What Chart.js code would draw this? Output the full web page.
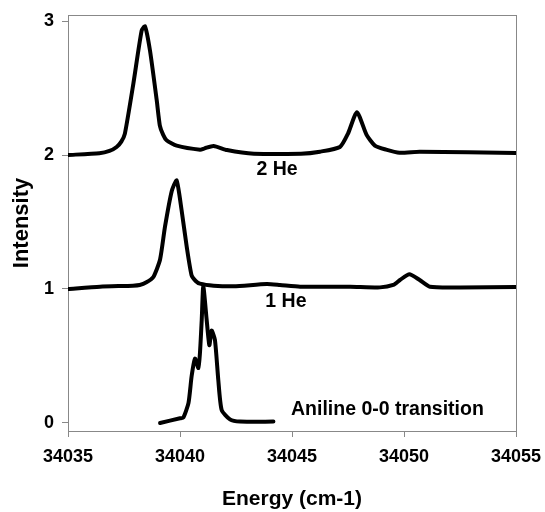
<!DOCTYPE html>
<html>
<head>
<meta charset="utf-8">
<script src="https://cdn.jsdelivr.net/npm/chart.js@4"></script>
<style>
  html, body { margin: 0; padding: 0; background: #fff; }
  canvas { display: block; }
</style>
</head>
<body>
<canvas id="chart" width="545" height="512"></canvas>
<script>
// espectros
const energy2He = [34035, 34036.4, 34036.85, 34037.17, 34037.38, 34037.54, 34037.92, 34038.29, 34038.44, 34038.66, 34038.96, 34039.1, 34039.25, 34039.4, 34039.85, 34040.9, 34041.1, 34041.5, 34042.1, 34043.3, 34045.4, 34046.25, 34047.14, 34047.5, 34047.9, 34048.33, 34048.7, 34049.2, 34049.8, 34050.7, 34055];
const int2He    = [2.0, 2.013, 2.03, 2.06, 2.1, 2.16, 2.535, 2.93, 2.96, 2.78, 2.41, 2.22, 2.15, 2.11, 2.07, 2.04, 2.05, 2.067, 2.037, 2.01, 2.01, 2.025, 2.06, 2.16, 2.32, 2.15, 2.07, 2.04, 2.017, 2.025, 2.015];

const energy1He = [34035, 34036.43, 34037.9, 34038.2, 34038.5, 34038.81, 34039.11, 34039.33, 34039.63, 34039.85, 34040.07, 34040.3, 34040.52, 34040.7, 34040.89, 34041.5, 34042.4, 34043.87, 34044.46, 34045.36, 34047.6, 34048.93, 34049.52, 34049.82, 34050.24, 34050.7, 34051.16, 34052.5, 34055];
const int1He    = [1.0, 1.017, 1.025, 1.03, 1.05, 1.09, 1.22, 1.465, 1.73, 1.81, 1.59, 1.315, 1.10, 1.06, 1.04, 1.025, 1.02, 1.037, 1.03, 1.017, 1.017, 1.012, 1.03, 1.067, 1.11, 1.067, 1.017, 1.012, 1.015];

const energyAniline = [34039.11, 34040.0, 34040.15, 34040.38, 34040.52, 34040.67, 34040.82, 34040.89, 34040.97, 34041.04, 34041.19, 34041.31, 34041.41, 34041.56, 34041.71, 34041.86, 34042.23, 34042.68, 34044.17];
const intAniline    = [0.0, 0.035, 0.04, 0.15, 0.35, 0.48, 0.41, 0.52, 0.77, 1.02, 0.77, 0.58, 0.69, 0.62, 0.32, 0.097, 0.027, 0.01, 0.01];

const xTicks = [34035, 34040, 34045, 34050, 34055];
const yTicks = [0, 1, 2, 3];

// rótulos das curvas (posição em unidades dos eixos)
const labelTexts = ['2 He', '1 He', 'Aniline 0-0 transition'];
const labelX     = [34044.33, 34044.73, 34049.26];
const labelY     = [1.888, 0.903, 0.097];

const FONT = "'Liberation Sans', Arial, sans-serif";

function pts(xs, ys) { return xs.map((x, i) => ({ x, y: ys[i] })); }

function curve(xs, ys) {
  return {
    data: pts(xs, ys),
    showLine: true,
    borderColor: '#000',
    borderWidth: 4,
    pointRadius: 0,
    tension: 0.2,
    borderCapStyle: 'round',
    borderJoinStyle: 'round'
  };
}

// moldura cinza + textos das curvas
const framePlugin = {
  id: 'frame',
  beforeDatasetsDraw(chart) {
    const { ctx, chartArea: ca } = chart;
    ctx.save();
    ctx.strokeStyle = '#888';
    ctx.lineWidth = 1;
    ctx.strokeRect(ca.left + 0.5, ca.top + 0.5, ca.right - ca.left, ca.bottom - ca.top);
    ctx.restore();
  },
  afterDatasetsDraw(chart) {
    const { ctx, scales } = chart;
    ctx.save();
    ctx.fillStyle = '#000';
    ctx.font = 'bold 19.5px ' + FONT;
    ctx.textAlign = 'center';
    ctx.textBaseline = 'middle';
    labelTexts.forEach((t, i) => {
      ctx.fillText(t, scales.x.getPixelForValue(labelX[i]), scales.y.getPixelForValue(labelY[i]));
    });
    ctx.restore();
  }
};

new Chart(document.getElementById('chart'), {
  type: 'scatter',
  data: {
    datasets: [curve(energy2He, int2He), curve(energy1He, int1He), curve(energyAniline, intAniline)]
  },
  options: {
    responsive: false,
    animation: false,
    layout: { padding: { top: 15, right: 29, left: 0, bottom: 0 } },
    plugins: { legend: { display: false }, tooltip: { enabled: false } },
    scales: {
      x: {
        type: 'linear',
        min: 34035, max: 34055,
        afterBuildTicks: s => { s.ticks = xTicks.map(v => ({ value: v })); },
        afterFit: s => { s.height = 81; s.paddingLeft = 0; s.paddingRight = 0; },
        grid: { drawOnChartArea: false, tickLength: 6, color: '#888' },
        border: { color: '#888' },
        ticks: { color: '#000', padding: 9, maxRotation: 0, font: { family: FONT, size: 18, weight: 'bold' }, callback: v => String(v) },
        title: { display: true, text: 'Energy (cm-1)', color: '#000', padding: { top: 0, bottom: 0 }, font: { family: FONT, size: 21, weight: 'bold' } }
      },
      y: {
        type: 'linear',
        min: -0.06, max: 3.045,
        afterBuildTicks: s => { s.ticks = yTicks.map(v => ({ value: v })); },
        afterFit: s => { s.width = 68; s.paddingTop = 0; s.paddingBottom = 0; },
        grid: { drawOnChartArea: false, tickLength: 6, color: '#888' },
        border: { color: '#888' },
        ticks: { color: '#000', padding: 8, font: { family: FONT, size: 18, weight: 'bold' } },
        title: { display: true, text: 'Intensity', color: '#000', padding: { top: 9, bottom: 0 }, font: { family: FONT, size: 22, weight: 'bold' } }
      }
    }
  },
  plugins: [framePlugin]
});
</script>
</body>
</html>
